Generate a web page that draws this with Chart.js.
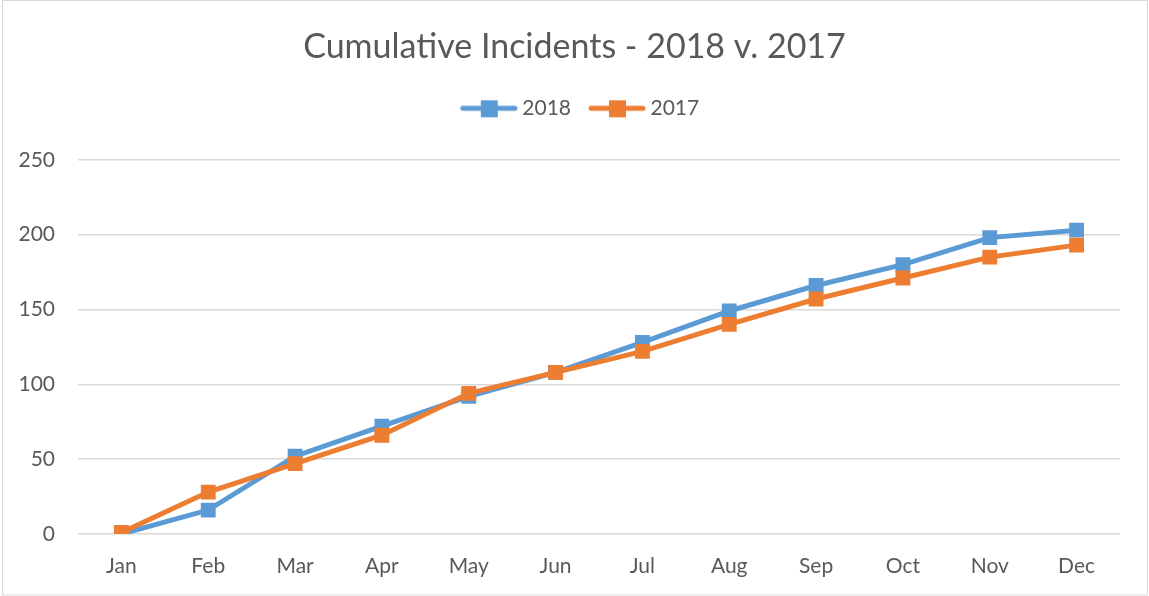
<!DOCTYPE html>
<html>
<head>
<meta charset="utf-8">
<title>Cumulative Incidents</title>
<script src="https://cdn.jsdelivr.net/npm/chart.js@4"></script>
<style>
  html, body { margin: 0; padding: 0; background: #fff; }
  #wrap { position: relative; width: 1149px; height: 596px; }
  #wrap canvas { display: block; }
</style>
</head>
<body>
<div id="wrap"><canvas id="incidentsChart" width="1149" height="596"></canvas></div>
<script>
const months = ['Jan', 'Feb', 'Mar', 'Apr', 'May', 'Jun', 'Jul', 'Aug', 'Sep', 'Oct', 'Nov', 'Dec'];
const incidents2018 = [0, 16, 52, 72, 92, 108, 128, 149, 166, 180, 198, 203];
const incidents2017 = [1, 28, 47, 66, 94, 108, 122, 140, 157, 171, 185, 193];
const yTicks = [0, 50, 100, 150, 200, 250];

const BLUE = '#5B9BD5';
const ORANGE = '#ED7D31';
const TEXT = '#595959';
const GRID = '#D9D9D9';
const FONT = "Lato, 'Open Sans', sans-serif";

// "line with a square" swatch for the legend, a bit wider than its box
function legendSwatch(color) {
    const c = document.createElement('canvas');
    c.width = 62; c.height = 20;
    const g = c.getContext('2d');
    g.strokeStyle = color;
    g.lineWidth = 5;
    g.lineCap = 'round';
    g.beginPath();
    g.moveTo(7, 10);
    g.lineTo(59, 10);
    g.stroke();
    g.fillStyle = color;
    g.fillRect(25, 2, 17, 17);
    return c;
}

// thin frame round the whole chart
const framePlugin = {
    id: 'frame',
    afterDraw(chart) {
        const g = chart.ctx;
        g.save();
        g.strokeStyle = GRID;
        g.lineWidth = 1;
        g.strokeRect(2.5, 0.5, chart.width - 4, chart.height - 1.5);
        g.restore();
    }
};

// extra room between the legend and the plot, and nudge the legend a little right
const legendGapPlugin = {
    id: 'legendGap',
    beforeInit(chart) {
        const legend = chart.legend;
        if (!legend) return;
        const fit = legend.fit;
        legend.fit = function () {
            fit.call(this);
            this.height += 31;
        };
        const draw = legend.draw;
        legend.draw = function () {
            const g = this.ctx;
            g.save();
            g.translate(6, 0);
            draw.call(this);
            g.restore();
        };
    }
};

Chart.defaults.font.family = FONT;
Chart.defaults.color = TEXT;

const ctx = document.getElementById('incidentsChart').getContext('2d');
new Chart(ctx, {
    type: 'line',
    data: {
        labels: months,
        datasets: [
            {
                label: '2018',
                data: incidents2018,
                borderColor: BLUE,
                backgroundColor: BLUE,
                borderWidth: 5,
                pointStyle: 'rect',
                pointRadius: 10.5,
                pointBorderWidth: 0,
                pointBackgroundColor: BLUE,
                tension: 0,
                order: 1
            },
            {
                label: '2017',
                data: incidents2017,
                borderColor: ORANGE,
                backgroundColor: ORANGE,
                borderWidth: 5,
                pointStyle: 'rect',
                pointRadius: 10.5,
                pointBorderWidth: 0,
                pointBackgroundColor: ORANGE,
                tension: 0,
                order: 0
            }
        ]
    },
    options: {
        responsive: false,
        animation: false,
        layout: { padding: 0 },
        plugins: {
            title: {
                display: true,
                text: 'Cumulative Incidents - 2018 v. 2017',
                color: TEXT,
                font: { size: 34, weight: 'normal' },
                padding: { top: 27, bottom: 11 }
            },
            legend: {
                display: true,
                position: 'top',
                labels: {
                    usePointStyle: true,
                    pointStyleWidth: 50,
                    boxHeight: 20,
                    padding: 19,
                    color: TEXT,
                    font: { size: 21 },
                    generateLabels(chart) {
                        return chart.data.datasets.map((ds, i) => ({
                            text: ds.label,
                            pointStyle: legendSwatch(ds.borderColor),
                            fillStyle: ds.borderColor,
                            strokeStyle: ds.borderColor,
                            lineWidth: 0,
                            fontColor: TEXT,
                            hidden: false,
                            datasetIndex: i
                        }));
                    }
                }
            },
            tooltip: { enabled: false }
        },
        scales: {
            x: {
                offset: true,
                afterFit(scale) { scale.height = 62; },
                grid: { display: false, drawTicks: false },
                border: { display: false },
                ticks: { color: TEXT, font: { size: 21 }, padding: 20 }
            },
            y: {
                min: 0,
                max: 250,
                afterBuildTicks(scale) {
                    scale.ticks = yTicks.map(v => ({ value: v }));
                },
                afterFit(scale) { scale.width = 78; },
                grid: { color: GRID, lineWidth: 1.5, drawTicks: false },
                border: { display: false },
                ticks: { color: TEXT, font: { size: 21 }, padding: 23 }
            },
            // empty strip on the right so the plot stops short of the frame
            yRight: {
                position: 'right',
                afterFit(scale) { scale.width = 29; },
                grid: { display: false, drawTicks: false },
                border: { display: false },
                ticks: { display: false }
            }
        }
    },
    plugins: [framePlugin, legendGapPlugin]
});
</script>
</body>
</html>
